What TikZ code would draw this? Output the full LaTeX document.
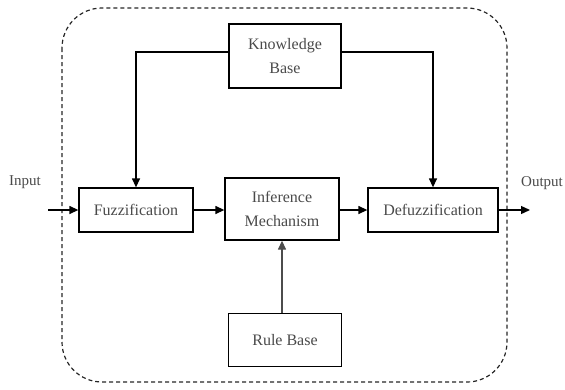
\documentclass[tikz,border=0pt]{standalone}
\usepackage{fontspec}
\setmainfont{Liberation Serif}
\usetikzlibrary{arrows.meta,calc}
\definecolor{txt}{HTML}{4a4a4a}
\begin{document}
\begin{tikzpicture}[x=1pt,y=-1pt,
  blk/.style={draw=black,line width=1.3pt,fill=white,align=center,text=txt,inner sep=0pt,
    font=\fontsize{16}{24}\selectfont},
  arr/.style={line width=1.3pt,-{Triangle[length=9pt,width=8pt]}},
  lbl/.style={text=txt,font=\fontsize{15}{18}\selectfont,inner sep=0pt}]
\useasboundingbox (0,0) rectangle (565,389);
\draw[line width=1.2pt,dash pattern=on 4pt off 3pt,rounded corners=40pt,draw=black!85]
  (62,8) rectangle (507,382);
\node[blk,minimum width=112pt,minimum height=64pt] (kb) at (285,56) {Knowledge\\Base};
\node[blk,minimum width=114pt,minimum height=44pt] (fz) at (136,210) {Fuzzification};
\node[blk,minimum width=114pt,minimum height=62pt] (im) at (282,209) {Inference\\Mechanism};
\node[blk,minimum width=130pt,minimum height=44pt] (df) at (433,210) {Defuzzification};
\node[blk,minimum width=113pt,minimum height=53pt] (rb) at (285,340) {Rule Base};
\node[lbl] (inl) at (25,182) {Input};
\node[lbl] (outl) at (542,183) {Output};
\coordinate (ina) at (48,210);
\coordinate (outa) at (530,210);
\draw[arr] ($(kb.west)+(0,-4)$) -| (fz.north);
\draw[arr] ($(kb.east)+(0,-4)$) -| (df.north);
\draw[arr] (ina) -- (fz.west);
\draw[arr] (fz.east) -- (fz.east -| im.west);
\draw[arr] (im.east |- df.west) -- (df.west);
\draw[arr] (df.east) -- (outa);
\draw[arr,draw=black!70] (rb.north -| im.south) -- (im.south);
\end{tikzpicture}
\end{document}
